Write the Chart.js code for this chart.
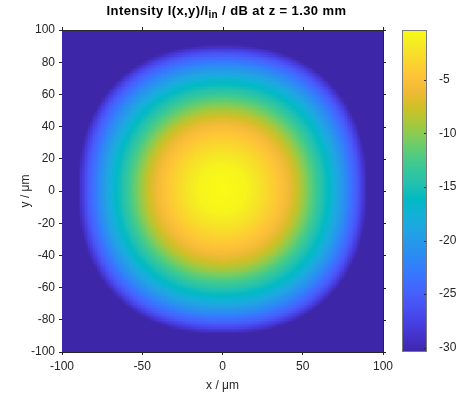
<!DOCTYPE html>
<html>
<head>
<meta charset="utf-8">
<script src="https://cdn.jsdelivr.net/npm/chart.js@4.4.0/dist/chart.umd.min.js"></script>
<style>
  html, body { margin: 0; padding: 0; background: #fff; }
  #wrap { position: relative; width: 458px; height: 394px; }
  #title { position: absolute; left: 0; width: 453px; top: 3px; text-align: center;
           font: bold 13px "Liberation Sans", Arial, sans-serif; letter-spacing: 0.4px;
           color: #000; white-space: nowrap; }
  #title sub { font-size: 10px; vertical-align: -3px; line-height: 0; }
</style>
</head>
<body>
<div id="wrap">
  <canvas id="beamChart" width="458" height="394"></canvas>
  <div id="title">Intensity I(x,y)/I<sub>in</sub> / dB at z = 1.30 mm</div>
</div>
<script>
// axis ticks
const xTicks = [-100, -50, 0, 50, 100];
const yTicks = [-100, -80, -60, -40, -20, 0, 20, 40, 60, 80, 100];
const colorTicks = [-30, -25, -20, -15, -10, -5];
const colorLimits = [-30.4, -0.36];

// radial intensity profile (distance in um -> dB)
const profileR  = [0, 15, 25, 33, 40, 47, 55, 62, 68, 76, 84, 90, 150];
const profileDb = [-0.36, -1.0, -2.6, -4.1, -5.7, -8.0, -11.5, -14.6, -16.9, -21, -25.6, -30.4, -30.4];
const beamCenter = [0, 1];
const edgeExp = 2.3;   // outer rings are a little squarish, the core is round

// parula colormap stops
const parula = [
  [62,38,168],[68,50,203],[71,65,229],[72,82,244],[69,99,253],[56,117,254],
  [46,135,247],[39,150,235],[32,165,227],[18,177,214],[2,186,195],[36,193,174],
  [55,200,151],[87,204,122],[129,204,89],[171,199,57],[209,191,39],[240,186,54],
  [254,195,56],[250,214,45],[245,233,36],[249,251,21]
];

function colorFor(db) {
  let t = (db - colorLimits[0]) / (colorLimits[1] - colorLimits[0]);
  t = Math.max(0, Math.min(1, t));
  const p = t * (parula.length - 1);
  const i = Math.min(parula.length - 2, Math.floor(p));
  const f = p - i;
  const a = parula[i], b = parula[i + 1];
  return 'rgb(' + Math.round(a[0] + (b[0] - a[0]) * f) + ',' +
    Math.round(a[1] + (b[1] - a[1]) * f) + ',' + Math.round(a[2] + (b[2] - a[2]) * f) + ')';
}

function levelAt(x, y) {
  const dx = Math.abs(x - beamCenter[0]), dy = Math.abs(y - beamCenter[1]);
  const re = Math.sqrt(dx * dx + dy * dy);
  const q = Math.min(1, re / 90);
  const p = 2 + (edgeExp - 2) * q * q;
  const r = Math.pow(Math.pow(dx, p) + Math.pow(dy, p), 1 / p);
  for (let k = 0; k < profileR.length - 1; k++) {
    if (r <= profileR[k + 1]) {
      const f = (r - profileR[k]) / (profileR[k + 1] - profileR[k]);
      return profileDb[k] + (profileDb[k + 1] - profileDb[k]) * f;
    }
  }
  return profileDb[profileDb.length - 1];
}

const axisColor = '#262626';

const heatmapPlugin = {
  id: 'heatmap',
  beforeDatasetsDraw(chart) {
    const ctx = chart.ctx;
    const xs = chart.scales.x, ys = chart.scales.y;
    ctx.save();
    for (let gx = -100; gx <= 100; gx++) {
      const x0 = Math.round(xs.getPixelForValue(Math.max(-100, gx - 0.5)));
      const x1 = Math.round(xs.getPixelForValue(Math.min(100, gx + 0.5)));
      if (x1 <= x0) continue;
      for (let gy = -100; gy <= 100; gy++) {
        const y0 = Math.round(ys.getPixelForValue(Math.min(100, gy + 0.5)));
        const y1 = Math.round(ys.getPixelForValue(Math.max(-100, gy - 0.5)));
        if (y1 <= y0) continue;
        ctx.fillStyle = colorFor(levelAt(gx, gy));
        ctx.fillRect(x0, y0, x1 - x0, y1 - y0);
      }
    }
    ctx.restore();
  },
  afterDraw(chart) {
    const ctx = chart.ctx;
    const a = chart.chartArea;
    const xs = chart.scales.x, ys = chart.scales.y, cb = chart.scales.cb;
    ctx.save();
    // top and right frame with outward ticks
    ctx.strokeStyle = axisColor;
    ctx.lineWidth = 1;
    ctx.beginPath();
    ctx.moveTo(a.left, a.top + 0.5); ctx.lineTo(a.right + 0.5, a.top + 0.5);
    ctx.moveTo(a.right + 0.5, a.top); ctx.lineTo(a.right + 0.5, a.bottom);
    xTicks.forEach(v => {
      const px = Math.round(xs.getPixelForValue(v)) + 0.5;
      ctx.moveTo(px, a.top); ctx.lineTo(px, a.top - 3);
    });
    yTicks.forEach(v => {
      const py = Math.round(ys.getPixelForValue(v)) + 0.5;
      ctx.moveTo(a.right, py); ctx.lineTo(a.right + 3, py);
    });
    ctx.stroke();

    // colorbar
    const left = cb.left + 19, width = 25;
    const top = Math.round(cb.getPixelForValue(colorLimits[1]));
    const bottom = Math.round(cb.getPixelForValue(colorLimits[0]));
    for (let py = top; py < bottom; py++) {
      ctx.fillStyle = colorFor(cb.getValueForPixel(py + 0.5));
      ctx.fillRect(left, py, width, 1);
    }
    ctx.strokeStyle = axisColor;
    ctx.beginPath();
    colorTicks.forEach(v => {
      const py = Math.round(cb.getPixelForValue(v)) + 0.5;
      ctx.moveTo(left + width, py); ctx.lineTo(left + width - 3, py);
    });
    ctx.stroke();
    ctx.strokeStyle = '#7a7a7a';
    ctx.strokeRect(left + 0.5, top + 0.5, width - 1, bottom - top - 1);
    ctx.restore();
  }
};

const tickFont = { family: '"Liberation Sans", Arial, sans-serif', size: 12 };

new Chart(document.getElementById('beamChart').getContext('2d'), {
  type: 'scatter',
  data: { datasets: [] },
  options: {
    responsive: false,
    animation: false,
    layout: { padding: { top: 30, left: 0, right: 0, bottom: 0 } },
    plugins: { legend: { display: false }, tooltip: { enabled: false }, title: { display: false } },
    scales: {
      x: {
        type: 'linear', position: 'bottom', min: -100, max: 100, z: 1,
        afterBuildTicks: s => { s.ticks = xTicks.map(v => ({ value: v })); },
        afterFit: s => { s.height = 42; },
        grid: { drawOnChartArea: false, tickLength: 3, color: axisColor, tickColor: axisColor },
        border: { color: axisColor, width: 1 },
        ticks: { font: tickFont, color: axisColor, padding: 4, maxRotation: 0 },
        title: { display: true, text: 'x / μm', font: tickFont, color: axisColor, padding: { top: 0, bottom: 1 } }
      },
      y: {
        type: 'linear', position: 'left', min: -100, max: 100, z: 1,
        afterBuildTicks: s => { s.ticks = yTicks.map(v => ({ value: v })); },
        afterFit: s => { s.width = 62; },
        grid: { drawOnChartArea: false, tickLength: 3, color: axisColor, tickColor: axisColor },
        border: { color: axisColor, width: 1 },
        ticks: { font: tickFont, color: axisColor, padding: 4 },
        title: { display: true, text: 'y / μm', font: tickFont, color: axisColor, padding: { top: 18, bottom: 0 } }
      },
      cb: {
        type: 'linear', axis: 'y', position: 'right', min: colorLimits[0], max: colorLimits[1],
        afterBuildTicks: s => { s.ticks = colorTicks.map(v => ({ value: v })); },
        afterFit: s => { s.width = 75; s.paddingTop = 0; s.paddingBottom = 0; },
        grid: { display: false },
        border: { display: false },
        ticks: { font: tickFont, color: axisColor, padding: 48 }
      }
    }
  },
  plugins: [heatmapPlugin]
});
</script>
</body>
</html>
